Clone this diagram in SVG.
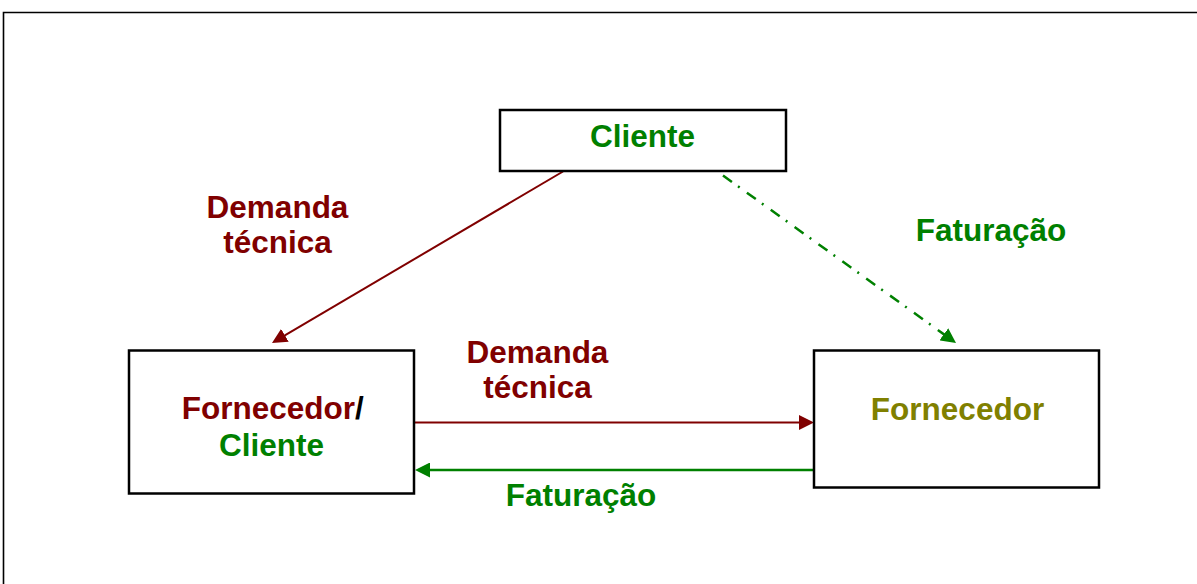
<svg xmlns="http://www.w3.org/2000/svg" width="1197" height="584" viewBox="0 0 1197 584">
<style>
text{font-family:"Liberation Sans",Arial,sans-serif;font-weight:bold;font-size:31.5px;text-anchor:middle}
.red{fill:#800000}
.grn{fill:#008000}
.olv{fill:#808000}
.box{fill:#fff;stroke:#000;stroke-width:2.5}
</style>
<defs>
<marker id="ar" viewBox="0 0 15 15" markerWidth="15" markerHeight="15" markerUnits="userSpaceOnUse" refX="5" refY="7.5" orient="auto"><path d="M0,0 L15,7.5 L0,15 z" fill="#800000"/></marker>
<marker id="ag" viewBox="0 0 15 15" markerWidth="15" markerHeight="15" markerUnits="userSpaceOnUse" refX="5" refY="7.5" orient="auto"><path d="M0,0 L15,7.5 L0,15 z" fill="#008000"/></marker>
</defs>
<rect x="0" y="0" width="1197" height="584" fill="#fff"/>
<path d="M3.5,584 V12.5 H1197" fill="none" stroke="#000" stroke-width="1.6"/>
<g id="connectors" fill="none">
<path d="M563,171.5 L280.6,337.9" stroke="#800000" stroke-width="2" marker-end="url(#ar)"/>
<path d="M723,175.5 L947.9,337.2" stroke="#008000" stroke-width="2.5" stroke-dasharray="11 7.5 2 8.9" marker-end="url(#ag)"/>
<path d="M414,422.5 L804,422.5" stroke="#800000" stroke-width="2" marker-end="url(#ar)"/>
<path d="M813,470 L425,470" stroke="#008000" stroke-width="2.5" marker-end="url(#ag)"/>
</g>
<g id="cliente">
<rect class="box" x="500" y="110" width="286" height="61"/>
<text x="642.5" y="147" class="grn">Cliente</text>
</g>
<g id="fornecedor-cliente">
<rect class="box" x="129" y="350.5" width="285" height="143"/>
<text x="272.7" y="419"><tspan class="red">Fornecedor</tspan><tspan fill="#000">/</tspan></text>
<text x="271.5" y="456" class="grn">Cliente</text>
</g>
<g id="fornecedor">
<rect class="box" x="814" y="350.5" width="285" height="137"/>
<text x="957.5" y="420" class="olv">Fornecedor</text>
</g>
<g id="labels">
<text x="277.5" y="218.3" class="red">Demanda</text>
<text x="277.5" y="253.3" class="red">técnica</text>
<text x="537.5" y="363.3" class="red">Demanda</text>
<text x="537.5" y="398.3" class="red">técnica</text>
<text x="991" y="241" class="grn">Faturação</text>
<text x="581" y="506" class="grn">Faturação</text>
</g>
</svg>
